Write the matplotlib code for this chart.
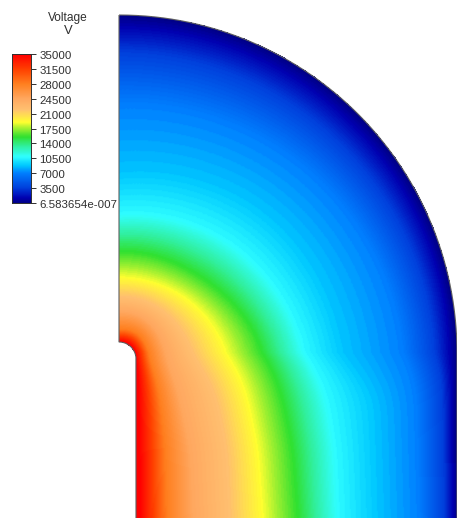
import numpy as np
import matplotlib
matplotlib.use("Agg")
import matplotlib.pyplot as plt
from matplotlib.colors import LinearSegmentedColormap
from matplotlib.patches import PathPatch
from matplotlib.path import Path
from matplotlib.transforms import ScaledTranslation

W, H = 457, 518
V_MAX = 35000.0
colorbar_ticks = [35000, 31500, 28000, 24500, 21000, 17500, 14000, 10500, 7000, 3500, 0]
colorbar_labels = ["35000", "31500", "28000", "24500", "21000", "17500", "14000", "10500", "7000", "3500", "6.583654e-007"]

# colour stops of the scale
cmap_positions = [0.0, 0.03, 0.10, 0.20, 0.25, 0.31, 0.38, 0.443, 0.50, 0.543, 0.63, 0.70, 0.80, 0.90, 1.0]
cmap_colors = ["#000088", "#0000b0", "#0040dc", "#0080ff", "#00c8ff", "#30ffff", "#30f0a0", "#30e030",
               "#a0f030", "#ffff30", "#ffc070", "#ffa860", "#ff8020", "#ff4000", "#ff0000"]

# voltage levels and the distance (px) at which each is read off, per station:
# stations up to 90 are directions around the arc centre, stations above 90 are
# rows below that centre, measured horizontally from the axis
levels = [35000, 28000, 24500, 22000, 19000, 15500, 10800, 8800, 7000, 3500, 0]
stations = [0, 22.5, 45, 67.5, 90, 113, 137, 187, 255]
dist_000 = [10, 23, 40, 56, 75, 101, 138, 178, 248, 301, 338]
dist_022 = [11, 24, 41, 57, 76, 103, 143, 186, 252, 302, 338]
dist_045 = [12, 26, 42, 60, 83, 109, 155, 200, 262, 305, 338]
dist_067 = [14, 27, 43, 65, 93, 124, 167, 210, 272, 310, 338]
dist_090 = [16, 28, 45, 72, 107, 145, 186, 222, 285, 317, 338]
dist_113 = [19, 36, 54, 88, 121, 156, 199, 241, 294, 323, 338]
dist_137 = [19, 41, 61, 98, 129, 164, 208, 254, 298, 324, 338]
dist_187 = [20, 46, 71, 108, 139, 174, 216, 256, 299, 325, 338]
dist_255 = [20, 48, 74, 111, 144, 179, 219, 258, 301, 326, 338]

cx, cy, R = 119.0, 353.0, 338.0
electrode_x = 136.0
fillet_top = 342.0
fillet_bottom = 359.0

cmap = LinearSegmentedColormap.from_list("field", list(zip(cmap_positions, cmap_colors)), N=128)

fig = plt.figure(figsize=(W / 100, H / 100), dpi=100)
ax = fig.add_axes([0, 0, 1, 1])
ax.set_xlim(0, W)
ax.set_ylim(H, 0)
ax.axis("off")

table = np.array([dist_000, dist_022, dist_045, dist_067, dist_090, dist_113, dist_137, dist_187, dist_255], dtype=float)
xs = np.arange(cx, W + 1, 1.0)
ys = np.arange(0, H + 1, 1.0)
X, Y = np.meshgrid(xs, ys)
upper = Y <= cy
d = np.where(upper, np.hypot(X - cx, Y - cy), X - cx)
s = np.where(upper, np.degrees(np.arctan2(X - cx, cy - Y)), 90 + (Y - cy))

# smooth the station table along s so the bands bend without kinks
s_fine = np.arange(0.0, 256.0, 1.0)
pad = 30
kernel = np.hanning(2 * pad + 1)
kernel /= kernel.sum()
lev = np.array(levels, dtype=float)
fine = np.empty((table.shape[1], s_fine.size))
for j in range(table.shape[1]):
    line = np.interp(s_fine, stations, table[:, j])
    padded = np.concatenate([2 * line[0] - line[pad:0:-1], line, 2 * line[-1] - line[-2:-pad - 2:-1]])
    fine[j] = np.convolve(padded, kernel, mode="valid")
fine = np.maximum.accumulate(fine, axis=0)

si = np.clip(np.rint(s).astype(int), 0, s_fine.size - 1)
out = np.empty_like(d)
for c in np.arange(s_fine.size):
    m = si == c
    out[m] = np.interp(d[m], fine[:, c], lev)
V = out

mesh = ax.pcolormesh(X, Y, V, cmap=cmap, vmin=0, vmax=V_MAX, shading="gouraud", zorder=1, rasterized=True)

# outline of the field region
t = np.radians(np.linspace(0, 90, 240))
arc = np.column_stack([cx + R * np.sin(t), cy - R * np.cos(t)])
f = np.radians(np.linspace(0, 90, 20))
fr = electrode_x - cx
fh = fillet_bottom - fillet_top
fillet = np.column_stack([cx + fr * np.sin(f), fillet_bottom - fh * np.cos(f)])
verts = np.vstack([arc, [cx + R, H + 5], [electrode_x, H + 5], [electrode_x, fillet_bottom], fillet[::-1], [cx, cy - R]])
path = Path(verts)
clip = PathPatch(path, transform=ax.transData, fc="none", ec="none")
ax.add_patch(clip)
mesh.set_clip_path(clip)
ax.add_patch(PathPatch(path, fc="none", ec="#606060", lw=0.8, zorder=3))

# colour bar
cax = fig.add_axes([12 / W, 1 - 203 / H, 19 / W, 149 / H])
grad = np.linspace(1, 0, 128).reshape(-1, 1)
cax.imshow(grad, cmap=cmap, aspect="auto", vmin=0, vmax=1, extent=[0, 1, 0, 35000])
cax.set_xticks([])
cax.yaxis.tick_right()
cax.set_yticks(colorbar_ticks)
cax.set_yticklabels(colorbar_labels, fontfamily="Liberation Sans", fontsize=8.25, color="#303030")
cax.tick_params(axis="y", length=3.5, width=0.7, pad=2.4, color="#303030")
shift = ScaledTranslation(0, -1 / 100, fig.dpi_scale_trans)
for lbl in cax.get_yticklabels():
    lbl.set_transform(lbl.get_transform() + shift)
for sp in cax.spines.values():
    sp.set_linewidth(0.7)
    sp.set_color("#303030")

ax.text(68, 18, "Voltage", ha="center", va="center", fontfamily="Liberation Sans", fontsize=8.6, color="#303030")
ax.text(68, 31, "V", ha="center", va="center", fontfamily="Liberation Sans", fontsize=9.4, color="#303030")

fig.savefig("out.png", dpi=100)
